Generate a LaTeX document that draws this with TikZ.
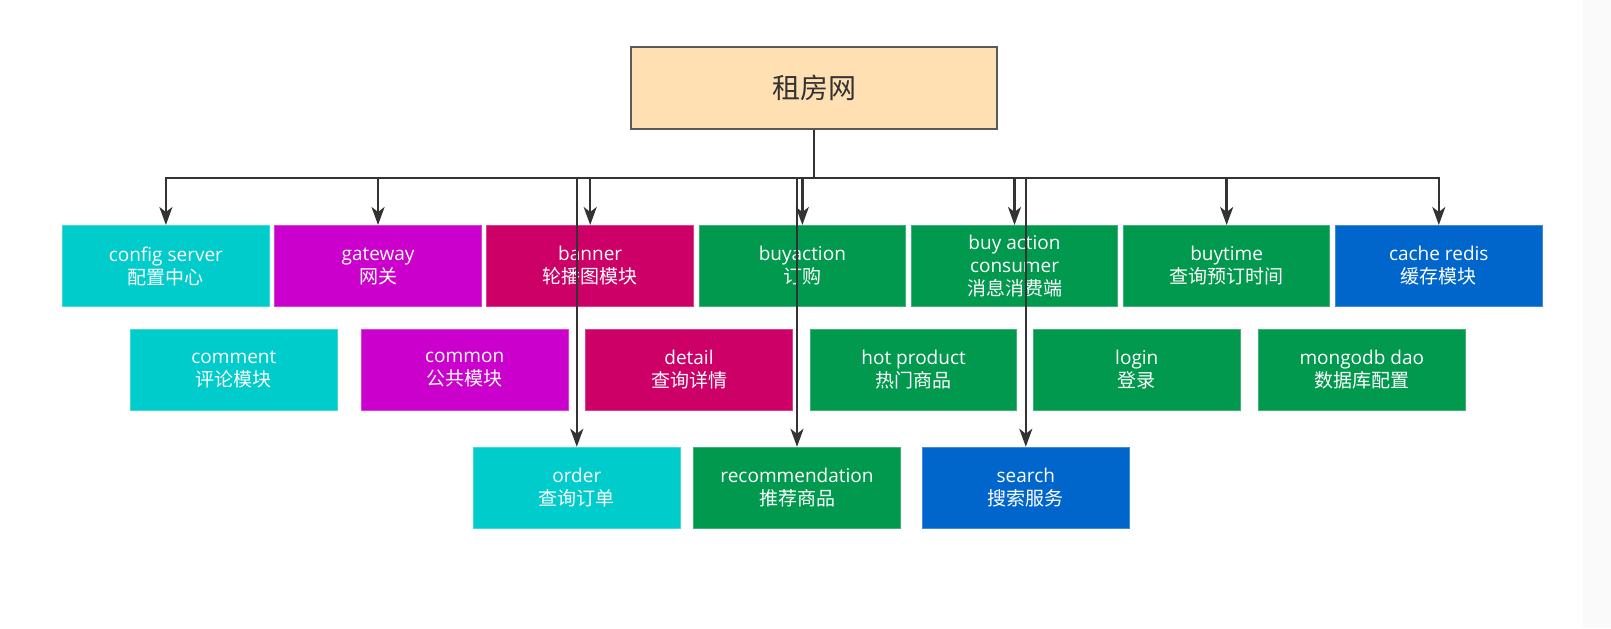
\documentclass[tikz,border=0pt]{standalone}
\usepackage{fontspec}
\setmainfont{Open Sans}
\newfontfamily\cjk{Noto Sans CJK SC}
\usetikzlibrary{arrows.meta}
\definecolor{tealbox}{RGB}{0,204,204}
\definecolor{violetbox}{RGB}{204,0,204}
\definecolor{redbox}{RGB}{204,0,102}
\definecolor{greenbox}{RGB}{0,153,77}
\definecolor{bluebox}{RGB}{0,102,204}
\definecolor{rootfill}{RGB}{255,224,178}
\definecolor{edgegray}{RGB}{51,51,51}
\tikzset{
  module/.style={draw=#1!75!white, fill=#1, line width=0.5pt, text=white, align=center,
    minimum width=103.3pt, minimum height=40.5pt, inner sep=0pt,
    font=\fontsize{9.5}{11.5}\selectfont},
  link/.style={draw=edgegray, line width=1.2pt, -{Stealth[length=9pt,width=6.5pt,inset=2.5pt]}}
}
\begin{document}
\begin{tikzpicture}[x=0.5pt, y=-0.5pt]
  \useasboundingbox (0,0) rectangle (1611,628);
  \fill[black!2] (1583,0) rectangle (1611,628);
  \node[draw=black!65, line width=1pt, fill=rootfill, minimum width=183pt, minimum height=41.2pt,
    text=edgegray, font=\cjk\fontsize{14}{16}\selectfont] (root) at (814,87.8) {租房网};
  \foreach \n/\i/\c/\t in {cfg/0/tealbox/{config server\\\cjk 配置中心},
      gw/1/violetbox/{gateway\\\cjk 网关},
      ban/2/redbox/{banner\\\cjk 轮播图模块},
      buy/3/greenbox/{buyaction\\\cjk 订购},
      cons/4/greenbox/{buy action\\consumer\\\cjk 消息消费端},
      btime/5/greenbox/{buytime\\\cjk 查询预订时间},
      cache/6/bluebox/{cache redis\\\cjk 缓存模块}} {
    \node[module=\c] (\n) at (165.9+212.15*\i,266) {\t};
  }
  \foreach \n/\x/\c/\t in {cmt/233.9/tealbox/{comment\\\cjk 评论模块},
      cmn/464.7/violetbox/{common\\\cjk 公共模块},
      det/689/redbox/{detail\\\cjk 查询详情},
      hot/913.6/greenbox/{hot product\\\cjk 热门商品},
      login/1136.8/greenbox/{login\\\cjk 登录},
      mongo/1361.8/greenbox/{mongodb dao\\\cjk 数据库配置}} {
    \node[module=\c] (\n) at (\x,369.7) {\t};
  }
  \foreach \n/\x/\c/\t in {ord/576.8/tealbox/{order\\\cjk 查询订单},
      rec/797/greenbox/{recommendation\\\cjk 推荐商品},
      srch/1025.8/bluebox/{search\\\cjk 搜索服务}} {
    \node[module=\c] (\n) at (\x,487.8) {\t};
  }
  \foreach \n in {cfg,gw,ban,buy,cons,btime,cache,ord,rec,srch}
    \draw[link] (root.south) -- ++(0,47.7) -| (\n.north);
\end{tikzpicture}
\end{document}
